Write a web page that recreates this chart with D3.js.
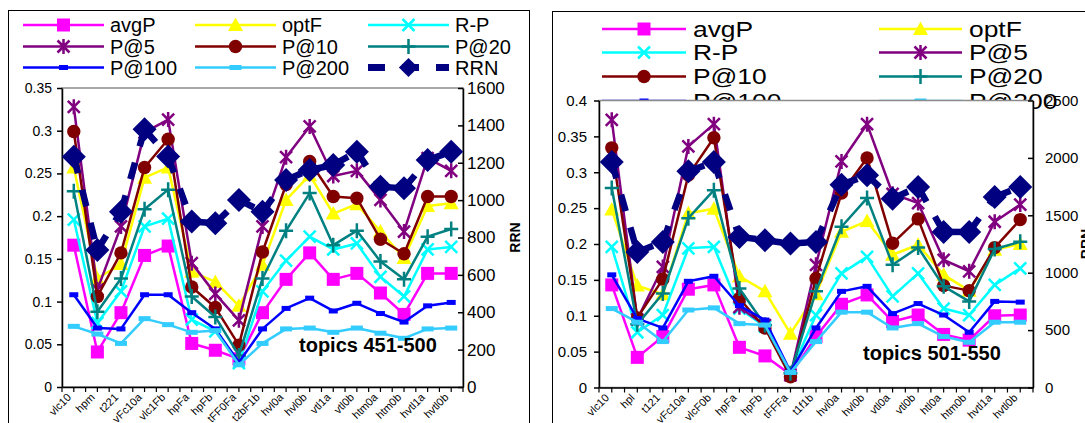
<!DOCTYPE html>
<html><head><meta charset="utf-8">
<script src="https://cdn.jsdelivr.net/npm/d3@7"></script>
<style>body{margin:0;background:#fff;overflow:hidden}svg{display:block;font-family:"Liberation Sans",Arial,Helvetica,sans-serif}</style>
</head><body><svg id="c" width="1085" height="423"></svg>
<script>
// ---------- data: topics 451-500 ----------
const catsA = ["vlc10","hpm","t221","vFc10a","vlc1Fb","hpFa","hpFb","tFF0Fa","t2bF1b","hvl0a","hvl0b","vtl1a","vtl0b","htm0a","htm0b","hvtl1a","hvtl0b"];
const avgP_A = [0.166,0.041,0.087,0.154,0.165,0.051,0.043,0.033,0.087,0.126,0.157,0.126,0.133,0.110,0.085,0.133,0.133];
const optF_A = [0.257,0.127,0.144,0.245,0.257,0.135,0.123,0.095,0.143,0.219,0.248,0.203,0.214,0.182,0.151,0.212,0.215];
const rp_A   = [0.196,0.075,0.112,0.188,0.197,0.079,0.065,0.028,0.112,0.148,0.176,0.161,0.168,0.129,0.106,0.161,0.164];
const p5_A   = [0.328,0.114,0.188,0.298,0.313,0.145,0.109,0.078,0.188,0.269,0.305,0.247,0.253,0.219,0.182,0.268,0.253];
const p10_A  = [0.299,0.106,0.157,0.257,0.290,0.117,0.093,0.049,0.158,0.237,0.264,0.223,0.221,0.173,0.156,0.223,0.223];
const p20_A  = [0.229,0.088,0.127,0.208,0.231,0.106,0.082,0.037,0.127,0.183,0.227,0.166,0.183,0.147,0.126,0.176,0.185];
const p100_A = [0.108,0.069,0.068,0.108,0.108,0.087,0.068,0.029,0.068,0.092,0.104,0.089,0.098,0.086,0.076,0.095,0.099];
const p200_A = [0.071,0.062,0.051,0.080,0.073,0.064,0.066,0.026,0.051,0.068,0.069,0.064,0.069,0.063,0.057,0.068,0.069];
const rrn_A  = [1232,733,938,1379,1233,885,876,1001,938,1108,1161,1188,1259,1072,1063,1215,1259];

// ---------- data: topics 501-550 ----------
const catsB = ["vlc10","hpl","t121","vFc10a","vlcF0b","hpFa","hpFb","tFFFa","t1f1b","hvl0a","hvl0b","vtl0a","vtl0b","htl0a","htm0b","hvtl1a","hvtl0b"];
const avgP_B = [0.143,0.042,0.071,0.137,0.143,0.056,0.044,0.018,0.071,0.116,0.129,0.092,0.101,0.074,0.066,0.100,0.101];
const optF_B = [0.248,0.142,0.130,0.243,0.249,0.155,0.134,0.075,0.130,0.217,0.232,0.185,0.199,0.157,0.135,0.192,0.200];
const rp_B   = [0.196,0.077,0.101,0.194,0.196,0.110,0.085,0.021,0.101,0.159,0.182,0.127,0.159,0.110,0.101,0.143,0.166];
const p5_B   = [0.373,0.095,0.168,0.336,0.367,0.112,0.087,0.017,0.171,0.315,0.367,0.270,0.257,0.178,0.162,0.231,0.255];
const p10_B  = [0.334,0.097,0.151,0.296,0.348,0.124,0.083,0.015,0.152,0.271,0.320,0.201,0.235,0.142,0.135,0.195,0.234];
const p20_B  = [0.278,0.088,0.131,0.236,0.275,0.138,0.087,0.020,0.134,0.224,0.264,0.171,0.195,0.141,0.120,0.193,0.203];
const p100_B = [0.157,0.096,0.083,0.148,0.155,0.114,0.094,0.022,0.083,0.134,0.141,0.103,0.117,0.101,0.077,0.120,0.119];
const p200_B = [0.110,0.091,0.064,0.108,0.111,0.089,0.087,0.021,0.064,0.105,0.105,0.083,0.089,0.071,0.063,0.091,0.091];
const rrn_B  = [1964,1181,1268,1883,1964,1312,1283,1254,1268,1767,1848,1645,1747,1355,1355,1660,1747];

const seriesNames = ["avgP","optF","R-P","P@5","P@10","P@20","P@100","P@200","RRN"];
const leftTicksA = [0,0.05,0.1,0.15,0.2,0.25,0.3,0.35];
const rightTicksA = [0,200,400,600,800,1000,1200,1400,1600];
const leftTicksB = [0,0.05,0.1,0.15,0.2,0.25,0.3,0.35,0.4];
const rightTicksB = [0,500,1000,1500,2000,2500];

// ---------- styles ----------
const styles = {
  "avgP":{color:"#FF00FF",marker:"square"},
  "optF":{color:"#FFFF00",marker:"triangle"},
  "R-P":{color:"#00FFFF",marker:"x"},
  "P@5":{color:"#800080",marker:"star"},
  "P@10":{color:"#800000",marker:"circle"},
  "P@20":{color:"#008080",marker:"plus"},
  "P@100":{color:"#0000FF",marker:"bar"},
  "P@200":{color:"#33CCFF",marker:"bar2"},
  "RRN":{color:"#000080",marker:"diamond"}
};

const svg = d3.select("#c");

function marker(g,type,x,y,c,s){
  s = s||1;
  switch(type){
    case "square": g.append("rect").attr("x",x-6.5*s).attr("y",y-6.5*s).attr("width",13*s).attr("height",13*s).attr("fill",c); break;
    case "triangle": g.append("path").attr("d",`M${x},${y-7.5*s}L${x+7.5*s},${y+6*s}L${x-7.5*s},${y+6*s}Z`).attr("fill",c); break;
    case "x": g.append("path").attr("d",`M${x-6*s},${y-6*s}L${x+6*s},${y+6*s}M${x-6*s},${y+6*s}L${x+6*s},${y-6*s}`).attr("stroke",c).attr("stroke-width",2.5).attr("fill","none"); break;
    case "star": g.append("path").attr("d",`M${x-6*s},${y-6*s}L${x+6*s},${y+6*s}M${x-6*s},${y+6*s}L${x+6*s},${y-6*s}M${x},${y-7.5*s}L${x},${y+7.5*s}`).attr("stroke",c).attr("stroke-width",2.5).attr("fill","none"); break;
    case "circle": g.append("circle").attr("cx",x).attr("cy",y).attr("r",6.7*s).attr("fill",c); break;
    case "plus": g.append("path").attr("d",`M${x-7*s},${y}L${x+7*s},${y}M${x},${y-7.5*s}L${x},${y+7.5*s}`).attr("stroke",c).attr("stroke-width",2.5).attr("fill","none"); break;
    case "bar": g.append("rect").attr("x",x-4.5*s).attr("y",y-2.5).attr("width",9*s).attr("height",5).attr("fill",c); break;
    case "bar2": g.append("rect").attr("x",x-6*s).attr("y",y-2.5).attr("width",12*s).attr("height",5).attr("fill",c); break;
    case "diamond": g.append("path").attr("d",`M${x},${y-12*s}L${x+12*s},${y}L${x},${y+12*s}L${x-12*s},${y}Z`).attr("fill",c); break;
  }
}

function legend(g,name,lx1,lx2,ty,tx,fs,sx){
  const st = styles[name];
  const ln = g.append("line").attr("x1",lx1).attr("x2",lx2).attr("y1",ty).attr("y2",ty)
    .attr("stroke",st.color).attr("stroke-width",name==="RRN"?7:2.5);
  if(name==="RRN") ln.attr("stroke-dasharray","17,17");
  marker(g,st.marker,(lx1+lx2)/2,ty,st.color,name==="RRN"?0.8:1);
  g.append("text").attr("transform",`translate(${tx},${ty+fs*0.36}) scale(${sx},1)`)
    .attr("font-size",fs).attr("fill","#000").text(name);
}

function chart(o){
  const g = svg.append("g");
  // frame
  g.append("rect").attr("x",o.fx).attr("y",o.fy).attr("width",o.fw).attr("height",500)
    .attr("fill","#fff").attr("stroke","#000").attr("stroke-width",1);
  // legend
  o.legendItems.forEach((it)=>legend(g,it.name,it.lx1,it.lx2,it.y,it.tx,o.legFs,o.legSx));
  const x = d3.scalePoint().domain(o.cats).range([o.x0,o.x1]).padding(0.5);
  const y = d3.scaleLinear().domain([0,o.yMax]).range([o.y0,o.y1]);
  const yr = d3.scaleLinear().domain([0,o.rMax]).range([o.y0,o.y1]);
  // plot area
  g.append("rect").attr("x",o.x0).attr("y",o.y1).attr("width",o.x1-o.x0).attr("height",o.y0-o.y1)
    .attr("fill","#fff").attr("stroke","#8c8c8c").attr("stroke-width",1.5);
  // axes
  const fmt = d=> String(+d.toFixed(2));
  const ax = g.append("g").attr("transform",`translate(${o.x0},0)`)
    .call(d3.axisLeft(y).tickValues(o.lt).tickFormat(fmt).tickSize(5).tickPadding(o.lpad).tickSizeOuter(0));
  ax.selectAll("text").attr("font-size",o.lfs).attr("fill","#000").attr("font-family",null);
  const ar = g.append("g").attr("transform",`translate(${o.x1},0)`)
    .call(d3.axisRight(yr).tickValues(o.rt).tickFormat(d3.format("d")).tickSize(-5).tickPadding(o.rpad).tickSizeOuter(0));
  ar.selectAll("text").attr("font-size",o.rfs).attr("fill","#000").attr("font-family",null);
  const ab = g.append("g").attr("transform",`translate(0,${o.y0})`)
    .call(d3.axisBottom(x).tickSize(0).tickFormat("").tickSizeOuter(0));
  [ax,ar,ab].forEach(a=>{a.selectAll("path,line").attr("stroke","#000").attr("stroke-width",1.5);});
  // x ticks at half steps
  const st = x.step();
  const half = [];
  o.cats.forEach(c=>{half.push(x(c)-st/2); half.push(x(c));});
  half.push(o.x1);
  g.selectAll(null).data(half).enter().append("line")
    .attr("x1",d=>d).attr("x2",d=>d).attr("y1",o.y0).attr("y2",o.y0+5).attr("stroke","#000").attr("stroke-width",1.2);
  g.selectAll(null).data(o.cats).enter().append("text")
    .attr("transform",c=>`translate(${x(c)-2},${o.y0+11}) rotate(-45)`)
    .attr("text-anchor","end").attr("font-size",11).attr("fill","#000").text(c=>c);
  // RRN axis title
  g.append("text").attr("transform",`translate(${o.rrnX},${(o.y0+o.y1)/2}) rotate(-90)`)
    .attr("text-anchor","middle").attr("font-size",14).attr("font-weight","bold").text("RRN");
  // series
  const sg = g.append("g");
  o.data.forEach((vals,i)=>{
    const name = seriesNames[i], stl = styles[name];
    const ys = name==="RRN"? yr : y;
    const pts = vals.map((v,j)=>[x(o.cats[j]), ys(v)]);
    if(name==="RRN"){
      for(let j=0;j<pts.length-1;j++){
        sg.append("line").attr("x1",pts[j][0]).attr("y1",pts[j][1]).attr("x2",pts[j+1][0]).attr("y2",pts[j+1][1])
          .attr("stroke",stl.color).attr("stroke-width",6.5).attr("stroke-dasharray","17,17");
      }
    } else {
      sg.append("path").attr("d",d3.line()(pts)).attr("fill","none").attr("stroke",stl.color)
        .attr("stroke-width",2.5).attr("stroke-linejoin","round");
    }
    pts.forEach(p=>marker(sg,stl.marker,p[0],p[1],stl.color,1));
  });
  // annotation
  g.append("text").attr("x",o.annX).attr("y",o.annY).attr("font-size",20).attr("font-weight","bold").text(o.ann);
}

// left chart
const legA = [];
const colsA = [[23,104,110],[195,276,282],[368,449,455]];
const rowsA = [25,46.5,67.5];
seriesNames.forEach((n,i)=>{
  const c = colsA[i%3], r = rowsA[Math.floor(i/3)];
  legA.push({name:n,lx1:c[0],lx2:c[1],tx:c[2],y:r});
});
chart({fx:8.5,fy:10.5,fw:521,cats:catsA,
  data:[avgP_A,optF_A,rp_A,p5_A,p10_A,p20_A,p100_A,p200_A,rrn_A],
  x0:62,x1:463,y0:387,y1:88,yMax:0.35,rMax:1600,lt:leftTicksA,rt:rightTicksA,
  lfs:14,rfs:17,lpad:5,rpad:4,rrnX:520,legendItems:legA,legFs:20,legSx:1,
  ann:"topics 451-500",annX:299,annY:352});

// right chart
const legB = [];
const colsB = [[602,686,693],[879,962,969]];
const rowsB = [29,52.5,76.5,101];
seriesNames.slice(0,8).forEach((n,i)=>{
  const c = colsB[i%2], r = rowsB[Math.floor(i/2)];
  legB.push({name:n,lx1:c[0],lx2:c[1],tx:c[2],y:r});
});
chart({fx:552.5,fy:11.5,fw:600,cats:catsB,
  data:[avgP_B,optF_B,rp_B,p5_B,p10_B,p20_B,p100_B,p200_B,rrn_B],
  x0:599,x1:1033,y0:387.5,y1:100.5,yMax:0.4,rMax:2500,lt:leftTicksB,rt:rightTicksB,
  lfs:15,rfs:15,lpad:7,rpad:12,rrnX:1091,legendItems:legB,legFs:22,legSx:1.2,
  ann:"topics 501-550",annX:863,annY:360});
</script></body></html>
